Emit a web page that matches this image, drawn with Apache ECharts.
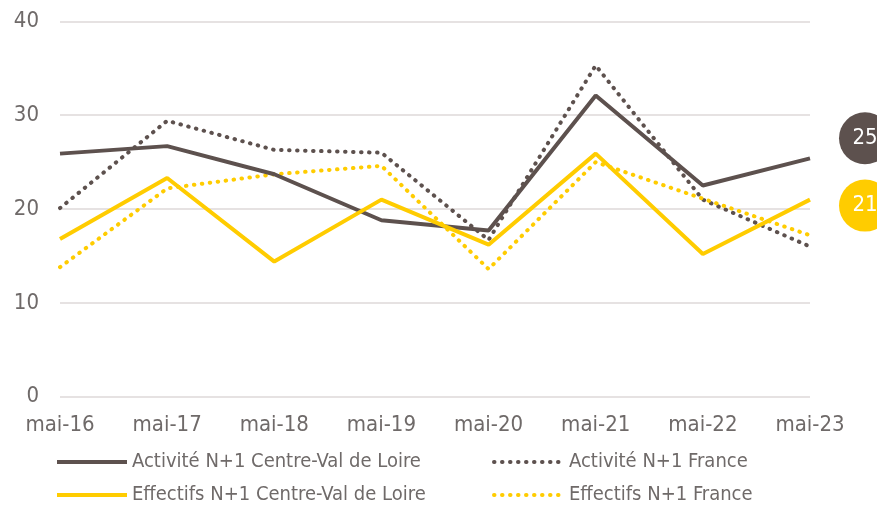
<!DOCTYPE html>
<html><head><meta charset="utf-8">
<script src="https://cdn.jsdelivr.net/npm/echarts@6/dist/echarts.min.js"></script>
<style>html,body{margin:0;padding:0;background:#fff}#c{width:877px;height:505px}</style>
</head><body><div id="c"></div>
<script>
const categories = ['mai-16','mai-17','mai-18','mai-19','mai-20','mai-21','mai-22','mai-23'];
const activiteCVL = [25.9, 26.7, 23.7, 18.8, 17.7, 32.1, 22.5, 25.4];
const activiteFrance = [20.1, 29.4, 26.3, 26.0, 16.7, 35.3, 21.0, 16.0];
const effectifsCVL = [16.8, 23.3, 14.4, 21.0, 16.2, 25.9, 15.2, 21.0];
const effectifsFrance = [13.8, 22.2, 23.7, 24.6, 13.6, 25.0, 21.1, 17.2];
const yTicks = [0, 10, 20, 30, 40];
const seriesNames = ['Activité N+1 Centre-Val de Loire', 'Activité N+1 France',
                     'Effectifs N+1 Centre-Val de Loire', 'Effectifs N+1 France'];

const BROWN = '#5d514e', YELLOW = '#ffcc00', TXT = '#6f6a69';
const FONT = "'DejaVu Sans Condensed', 'Liberation Sans Narrow', sans-serif";

function endLbl(color, dy) {
  return {
    show: true, position: 'right', distance: 5, offset: [50, dy],
    formatter: p => String(Math.round(p.value)),
    width: 52, height: 52, lineHeight: 52, align: 'center', verticalAlign: 'middle',
    backgroundColor: color, borderRadius: 26, color: '#fff',
    fontFamily: FONT, fontSize: 22, padding: 0
  };
}
const legendPos = [[55, 452], [492, 452], [55, 485], [492, 485]];
const legends = seriesNames.map((n, i) => ({
  left: legendPos[i][0], top: legendPos[i][1], padding: 0,
  itemWidth: 70, itemHeight: 6, itemGap: 5, itemStyle: {opacity: 0},
  lineStyle: {width: 4},
  textStyle: {color: TXT, fontSize: 20, lineHeight: 20, fontFamily: FONT},
  data: [n]
}));
const chart = echarts.init(document.getElementById('c'), null, {renderer: 'canvas'});
chart.setOption({
  animation: false,
  textStyle: {fontFamily: FONT},
  grid: {left: 60, right: 67, top: 21.3, bottom: 108.3, containLabel: false},
  xAxis: {
    type: 'category', data: categories, boundaryGap: false,
    axisLine: {show: false}, axisTick: {show: false},
    axisLabel: {color: TXT, fontSize: 22, fontFamily: FONT, margin: 18}
  },
  yAxis: {
    type: 'value', min: yTicks[0], max: yTicks[yTicks.length - 1], interval: 10,
    axisLine: {show: false}, axisTick: {show: false},
    axisLabel: {color: TXT, fontSize: 22, fontFamily: FONT, margin: 21},
    splitLine: {lineStyle: {color: '#e6e2e2', width: 2}}
  },
  legend: legends,
  series: [
    {name: seriesNames[1], type: 'line', data: activiteFrance, symbol: 'none',
     lineStyle: {color: BROWN, width: 4, type: [0.5, 7.5], cap: 'round'}, itemStyle: {color: BROWN}},
    {name: seriesNames[3], type: 'line', data: effectifsFrance, symbol: 'none',
     lineStyle: {color: YELLOW, width: 4, type: [0.5, 7.5], cap: 'round'}, itemStyle: {color: YELLOW}},
    {name: seriesNames[0], type: 'line', data: activiteCVL, symbol: 'none',
     lineStyle: {color: BROWN, width: 4}, itemStyle: {color: BROWN}, endLabel: endLbl(BROWN, -20)},
    {name: seriesNames[2], type: 'line', data: effectifsCVL, symbol: 'none',
     lineStyle: {color: YELLOW, width: 4}, itemStyle: {color: YELLOW}, endLabel: endLbl(YELLOW, 6)}
  ]
});
</script></body></html>
